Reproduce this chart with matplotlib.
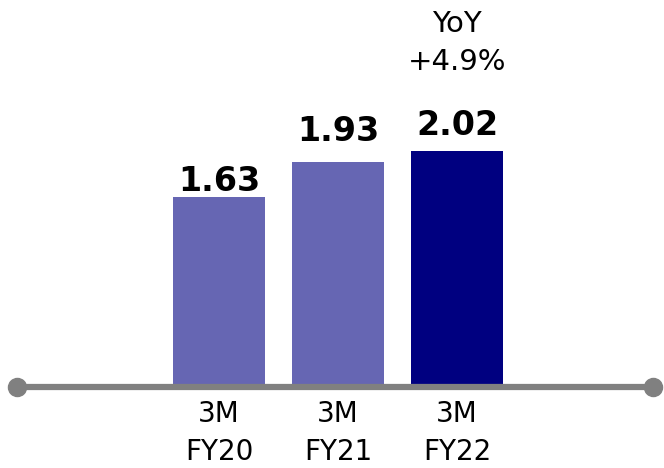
import matplotlib.pyplot as plt

# Data
categories = ["3M\nFY20", "3M\nFY21", "3M\nFY22"]
values = [1.63, 1.93, 2.02]
bar_colors = ["#6666b3", "#6666b3", "#000080"]
label_gaps = [0.05, 0.18, 0.145]
yoy_text = "YoY\n+4.9%"

fig = plt.figure(figsize=(6.64, 4.68), dpi=100)
ax = fig.add_axes([0, 0, 1, 1])

x = [0, 1.0, 2.0]
ax.bar(x, values, width=0.77, color=bar_colors, zorder=2)

# axis line with round end points
ax.plot([-1.697, 3.647], [0, 0], color="#808080", lw=4.5, zorder=3,
        solid_capstyle="butt")
ax.plot([-1.697, 3.647], [0, 0], "o", color="#808080", ms=13, zorder=4)

# value labels
for xi, v, g in zip(x, values, label_gaps):
    ax.text(xi, v + g, f"{v:.2f}", ha="center", va="baseline",
            fontsize=24, fontweight="bold", color="black")

# category labels
for xi, c in zip(x, categories):
    ax.text(xi, -0.116, c, ha="center", va="top", fontsize=20,
            linespacing=1.41, color="black")

# YoY annotation
ax.text(x[-1], 3.233, yoy_text, ha="center", va="top",
        fontsize=21, linespacing=1.45, color="black")

ax.set_xlim(-1.84, 3.74)
ax.set_ylim(-0.695, 3.319)
ax.axis("off")

fig.savefig("out.png", dpi=100)
